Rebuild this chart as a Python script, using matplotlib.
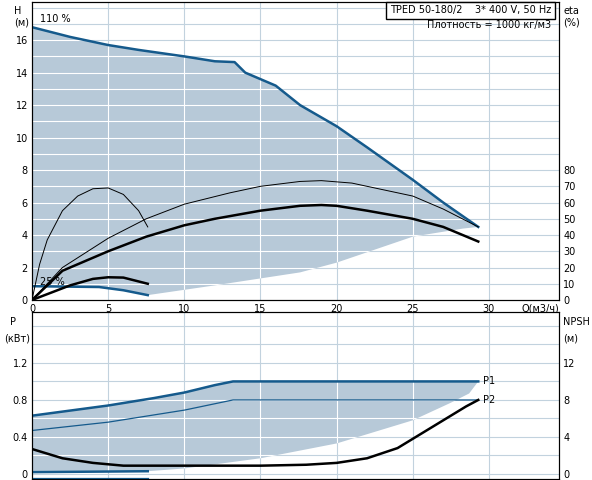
import matplotlib
matplotlib.use("Agg")
import matplotlib.pyplot as plt
import numpy as np
from matplotlib.patches import Polygon

# ---- data ----
q_max = [0, 2.5, 5, 7, 10, 12, 13.3, 14, 16, 17.6, 20, 22, 25, 27, 29.3]
h_max = [16.8, 16.2, 15.7, 15.4, 15.0, 14.7, 14.65, 14.0, 13.2, 12.0, 10.7, 9.4, 7.4, 6.0, 4.5]
q_min = [0, 4.4, 6, 7.6]
h_min = [0.85, 0.8, 0.6, 0.3]
q_low = [7.6, 12, 17.6, 20, 25, 28.3, 29.3]
h_low = [0.3, 0.9, 1.7, 2.3, 3.9, 4.4, 4.5]
q_eta = [0, 2, 5, 7.5, 10, 12, 15, 17.6, 19, 20, 22, 25, 27, 29.3]
eta_tot = [0, 18, 30, 39, 46, 50, 55, 58, 58.5, 58, 55, 50, 45, 36]
q_eta2 = [0, 2, 5, 7.5, 10, 13, 15, 17.6, 19, 21, 23, 25, 27, 29.3]
eta_hyd = [0, 20, 38, 50, 59, 66, 70, 73, 73.5, 72, 68, 64, 56, 45]
q_e25 = [0, 0.5, 1, 2, 3, 4, 5, 6, 7, 7.6]
eta_e25 = [0, 22, 37, 55, 64, 68.5, 69, 65, 55, 45]
q_t25 = [0, 2.5, 4, 5, 6, 7.6]
eta_t25 = [0, 9, 13, 14, 13.8, 10]
q_p1 = [0, 5, 8, 10, 12, 13.2, 29.3]
p1 = [0.63, 0.74, 0.82, 0.88, 0.96, 1.0, 1.0]
q_p2 = [0, 5, 10, 13.2, 29.3]
p2 = [0.47, 0.56, 0.69, 0.8, 0.8]
q_plow = [7.6, 10, 15, 20, 25, 27.5, 28.7, 29.3]
p_low = [0.0, 0.06, 0.17, 0.33, 0.58, 0.77, 0.87, 1.0]
q_p25 = [0, 7.6]
p1_25 = [0.02, 0.03]
p2_25 = [-0.045, -0.045]
q_npsh = [0, 2, 4, 6, 10, 15, 18, 20, 22, 24, 25, 27, 28.5, 29.3]
npsh = [2.7, 1.7, 1.2, 0.9, 0.9, 0.9, 1.0, 1.2, 1.7, 2.8, 3.8, 5.8, 7.3, 8.0]

BLUE = '#155a8c'
SHADE = '#b7c9d8'
GRID = '#c2d2de'
plt.rcParams['font.family'] = 'DejaVu Sans'
plt.rcParams['font.size'] = 7

fig = plt.figure(figsize=(5.92, 4.8), dpi=100)
ax1 = fig.add_axes([32/592, 180/480, 527/592, 298/480])
ax2 = fig.add_axes([32/592, 1/480, 527/592, 167/480])

def grid_with_shade(ax, poly, xt, yt):
    for x in xt:
        ax.axvline(x, color=GRID, lw=0.8, zorder=0)
    for y in yt:
        ax.axhline(y, color=GRID, lw=0.8, zorder=0)
    ax.add_patch(poly)
    for x in xt:
        l = ax.axvline(x, color='white', lw=0.8, zorder=1.5); l.set_clip_path(poly)
    for y in yt:
        l = ax.axhline(y, color='white', lw=0.8, zorder=1.5); l.set_clip_path(poly)

# top
ax1.set_xlim(0, 34.6); ax1.set_ylim(0, 18.35)
upper = list(zip(q_max, h_max))
lower = list(zip(q_min, h_min)) + list(zip(q_low, h_low))[1:]
poly = Polygon(upper + lower[::-1], closed=True, fc=SHADE, ec='none', zorder=1)
grid_with_shade(ax1, poly, np.arange(5, 35, 5), np.arange(1, 19, 1))
ax1.plot(q_max, h_max, color=BLUE, lw=1.8, zorder=3)
ax1.plot(q_min, h_min, color=BLUE, lw=1.8, zorder=3)
ax1.plot(q_eta, np.array(eta_tot)/10, color='black', lw=1.8, zorder=3)
ax1.plot(q_eta2, np.array(eta_hyd)/10, color='black', lw=0.7, zorder=3)
ax1.plot(q_e25, np.array(eta_e25)/10, color='black', lw=0.7, zorder=3)
ax1.plot(q_t25, np.array(eta_t25)/10, color='black', lw=1.8, zorder=3)
ax1.set_yticks(range(0, 17, 2)); ax1.set_xticks(range(0, 31, 5))
ax1.tick_params(length=0, pad=3)
ax1r = ax1.twinx(); ax1r.set_ylim(0, 183.5)
ax1r.set_yticks(range(0, 81, 10)); ax1r.tick_params(length=0, pad=3)
ax1.text(0.5, 17.1, '110 %', zorder=5)
ax1.text(0.5, 0.95, '25 %', zorder=5)
ax1.text(-0.02, 0.97, 'H', transform=ax1.transAxes, ha='right', va='center')
ax1.text(-0.005, 0.93, '(м)', transform=ax1.transAxes, ha='right', va='center')
ax1.text(1.008, 0.97, 'eta', transform=ax1.transAxes, ha='left', va='center')
ax1.text(1.008, 0.93, '(%)', transform=ax1.transAxes, ha='left', va='center')
ax1.text(0.985, 0.972, 'TPED 50-180/2    3* 400 V, 50 Hz', transform=ax1.transAxes,
         ha='right', va='center', bbox=dict(fc='white', ec='black', lw=1, pad=2.5), zorder=5)
ax1.text(0.985, 0.922, 'Плотность = 1000 кг/м3', transform=ax1.transAxes, ha='right', va='center', zorder=5)
ax1.text(0.928, -0.028, 'Q(м3/ч)', transform=ax1.transAxes, ha='left', va='center')

# bottom
ax2.set_xlim(0, 34.6); ax2.set_ylim(-0.054, 1.75)
up2 = list(zip(q_p1, p1))
low2 = [(0, p1_25[0]), (7.6, p1_25[1])] + list(zip(q_plow, p_low))[1:]
poly2 = Polygon(up2 + low2[::-1], closed=True, fc=SHADE, ec='none', zorder=1)
grid_with_shade(ax2, poly2, np.arange(5, 35, 5), np.arange(0, 1.75, 0.2))
ax2.plot(q_p1, p1, color=BLUE, lw=1.8, zorder=3)
ax2.plot(q_p2, p2, color=BLUE, lw=0.9, zorder=3)
ax2.plot(q_p25, p1_25, color=BLUE, lw=1.8, zorder=3)
ax2.plot(q_p25, p2_25, color=BLUE, lw=0.9, zorder=3)
ax2.plot(q_npsh, np.array(npsh)/10, color='black', lw=1.8, zorder=3)
ax2.text(29.6, 1.0, 'P1', va='center'); ax2.text(29.6, 0.8, 'P2', va='center')
ax2.set_yticks([0, 0.4, 0.8, 1.2]); ax2.set_yticklabels(['0', '0.4', '0.8', '1.2'])
ax2.set_xticks([]); ax2.tick_params(length=0, pad=3)
ax2r = ax2.twinx(); ax2r.set_ylim(-0.54, 17.5)
ax2r.set_yticks([0, 4, 8, 12]); ax2r.tick_params(length=0, pad=3)
ax2.text(-0.03, 0.94, 'P', transform=ax2.transAxes, ha='right', va='center')
ax2.text(-0.003, 0.84, '(кВт)', transform=ax2.transAxes, ha='right', va='center')
ax2.text(1.008, 0.94, 'NPSH', transform=ax2.transAxes, ha='left', va='center')
ax2.text(1.008, 0.84, '(м)', transform=ax2.transAxes, ha='left', va='center')

fig.savefig('out.png', dpi=100)
